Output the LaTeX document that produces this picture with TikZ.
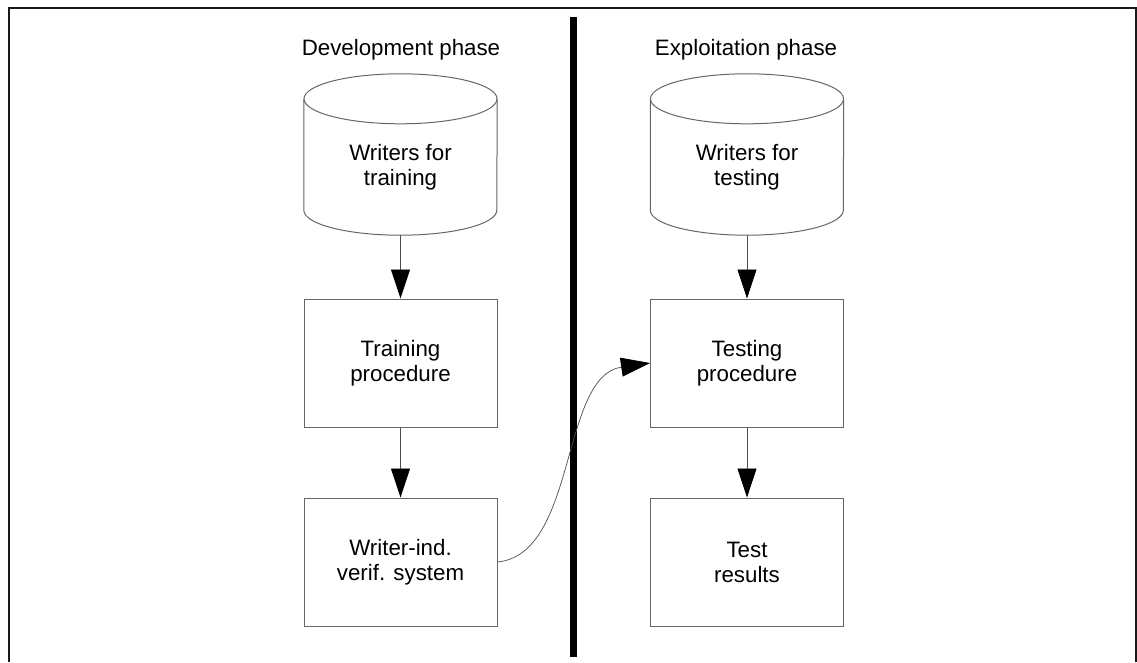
\documentclass[tikz,border=0pt]{standalone}
\usepackage{fontspec}
\setmainfont{Liberation Sans}
\usetikzlibrary{arrows.meta,calc}
\begin{document}
\begin{tikzpicture}[x=1pt,y=1pt,
  txt/.style={font=\fontsize{22.3}{25}\selectfont, align=center},
  box/.style={txt, draw=black!60, line width=1pt, minimum width=193pt, minimum height=128pt, inner sep=0pt},
  cylbody/.style={txt, minimum width=193pt, minimum height=86pt, inner sep=0pt},
  cylline/.style={draw=black!60, line width=1pt},
  flow/.style={draw=black!70, line width=0.9pt, -{Triangle[length=29pt,width=19pt,black]}},
  head/.style={font=\fontsize{22.3}{25}\selectfont}
]
\useasboundingbox (0,0) rectangle (1137,-662);
% frame
\draw[line width=2pt, black!90] (9,-662) -- (9,-8) -- (1136,-8) -- (1136,-662);
% divider
\draw[line width=7pt] (573.5,-17) -- (573.5,-657);
% headings
\node[head] (h1) at (401,-50) {Development phase};
\node[head] (h2) at (746,-50) {Exploitation phase};
% cylinders
\node[cylbody] (c1) at (400.5,-167) {Writers for\\training};
\node[cylbody] (c2) at (747,-167) {Writers for\\testing};
\foreach \c in {c1,c2}{
  \draw[cylline] ($(\c.north)+(0,25)$) ellipse [x radius=96.5pt, y radius=25pt];
  \draw[cylline] ($(\c.north west)+(0,25)$) -- (\c.south west)
     arc[start angle=180, end angle=360, x radius=96.5pt, y radius=25pt]
     -- ($(\c.north east)+(0,25)$);
}
\coordinate (c1b) at ($(c1.south)+(0,-25)$);
\coordinate (c2b) at ($(c2.south)+(0,-25)$);
% boxes
\node[box] (tp) at (400.5,-363) {Training\\procedure};
\node[box] (wis) at (400.5,-562) {Writer-ind.\\verif. system};
\node[box] (tst) at (747,-363) {Testing\\procedure};
\node[box] (res) at (747,-562) {Test\\results};
% connectors
\draw[flow] (c1b) -- (tp.north);
\draw[flow] (tp.south) -- (wis.north);
\draw[flow] (c2b) -- (tst.north);
\draw[flow] (tst.south) -- (res.north);
\draw[flow, line width=0.7pt] (wis.east) .. controls +(80,8) and +(-90,-13) .. (tst.west);
\end{tikzpicture}
\end{document}
